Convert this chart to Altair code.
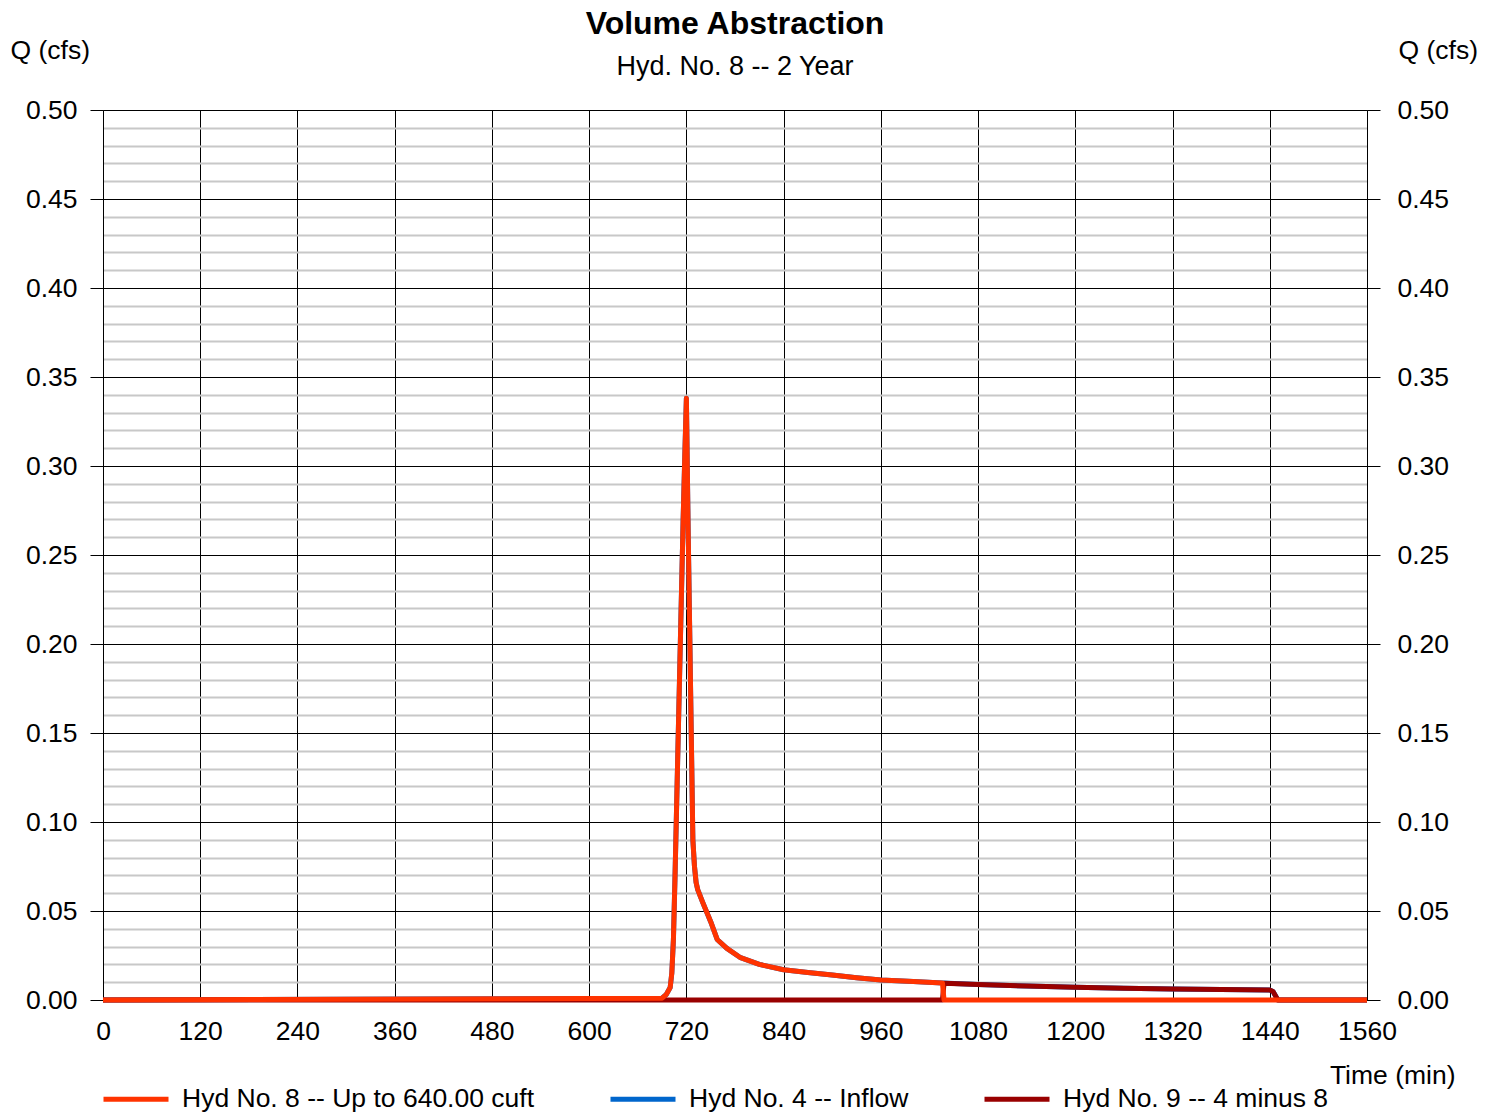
import altair as alt
import pandas as pd

FONT = "Liberation Sans"

S8 = "Hyd No. 8 -- Up to 640.00 cuft"
S4 = "Hyd No. 4 -- Inflow"
S9 = "Hyd No. 9 -- 4 minus 8"

series_names = [S8, S4, S9]
series_colors = ["#FF3300", "#0066CC", "#990000"]

# Hyd No. 8 -- Up to 640.00 cuft
t8 = [0, 690, 695, 700, 702, 704, 706, 708, 710, 712, 714, 716, 718, 720,
      722, 724, 726, 728, 730, 732, 734, 740, 750, 758, 770, 786, 810, 840,
      870, 900, 930, 960, 1000, 1036, 1038, 1560]
q8 = [0, 0.001, 0.003, 0.007, 0.015, 0.034, 0.07, 0.11, 0.15, 0.19, 0.23, 0.27, 0.305, 0.338,
      0.27, 0.21, 0.15, 0.09, 0.075, 0.066, 0.062, 0.055, 0.044, 0.034, 0.029, 0.024, 0.020, 0.017,
      0.0155, 0.014, 0.0125, 0.0113, 0.0104, 0.0095, 0, 0]

# Hyd No. 9 -- 4 minus 8
t9 = [0, 1036, 1038, 1080, 1140, 1200, 1260, 1320, 1380, 1440, 1444, 1450, 1560]
q9 = [0, 0, 0.0094, 0.0087, 0.0078, 0.0071, 0.0066, 0.0062, 0.0059, 0.0056, 0.0048, 0, 0]

# Hyd No. 4 -- Inflow (hidden below the other two)
t4 = [0, 690, 695, 700, 702, 704, 706, 708, 710, 712, 714, 716, 718, 720,
      722, 724, 726, 728, 730, 732, 734, 740, 750, 758, 770, 786, 810, 840,
      870, 900, 930, 960, 1000, 1036, 1080, 1140, 1200, 1260, 1320, 1380, 1440, 1444, 1450, 1560]
q4 = [0, 0.001, 0.003, 0.007, 0.015, 0.034, 0.07, 0.11, 0.15, 0.19, 0.23, 0.27, 0.305, 0.338,
      0.27, 0.21, 0.15, 0.09, 0.075, 0.066, 0.062, 0.055, 0.044, 0.034, 0.029, 0.024, 0.020, 0.017,
      0.0155, 0.014, 0.0125, 0.0113, 0.0104, 0.0095, 0.0087, 0.0078, 0.0071, 0.0066, 0.0062, 0.0059,
      0.0056, 0.0048, 0, 0]

x_ticks = list(range(0, 1561, 120))
y_major = [round(i * 0.05, 2) for i in range(11)]
y_minor = [round(i * 0.01, 2) for i in range(51)]

df8 = pd.DataFrame({"t": t8, "q": q8, "series": S8})
df9 = pd.DataFrame({"t": t9, "q": q9, "series": S9})
df4 = pd.DataFrame({"t": t4, "q": q4, "series": S4})

is_major = "abs(datum.value*20 - round(datum.value*20)) < 0.001"

LAB = 26.5

xscale = alt.Scale(domain=[0, 1560], nice=False, zero=False)
yscale = alt.Scale(domain=[0, 0.5], nice=False, zero=False)
cscale = alt.Scale(domain=series_names, range=series_colors)

x_axis = alt.Axis(
    values=x_ticks, format="d", grid=True, gridColor="black", gridWidth=1, ticks=False,
    labelFontSize=LAB, labelPadding=18, labelFlush=False, domainColor="black",
    title="Time (min)", titleX=1352, titleY=83, titleAlign="right",
    titleBaseline="alphabetic", titleFontSize=LAB, titleFontWeight="normal",
    labelColor="black", titleColor="black",
)

y_left = alt.Axis(
    orient="left", values=y_minor, format=".2f",
    labelExpr=f"{is_major} ? datum.label : ''",
    grid=True,
    gridColor={"condition": {"test": is_major, "value": "black"}, "value": "#c8c8c8"},
    gridWidth={"condition": {"test": is_major, "value": 1}, "value": 2},
    tickOpacity={"condition": {"test": is_major, "value": 1}, "value": 0},
    tickColor="black", tickSize=13, labelPadding=13, labelFontSize=LAB,
    domainColor="black", labelColor="black",
    title="Q (cfs)", titleAngle=0, titleX=-93, titleY=-60, titleAlign="left",
    titleBaseline="middle", titleFontSize=LAB, titleFontWeight="normal", titleColor="black",
)

y_right = alt.Axis(
    orient="right", values=y_major, format=".2f", grid=False,
    tickColor="black", tickSize=13, labelPadding=17, labelFontSize=LAB,
    domainColor="black", labelColor="black",
    title="Q (cfs)", titleAngle=0, titleX=31, titleY=-60, titleAlign="left",
    titleBaseline="middle", titleFontSize=LAB, titleFontWeight="normal", titleColor="black",
)

legend = alt.Legend(
    title=None, orient="none", legendX=-2, legendY=954, direction="horizontal",
    symbolType="stroke", symbolSize=4225, symbolStrokeWidth=5,
    labelFontSize=LAB, labelLimit=0, labelOffset=11, columnPadding=65,
    labelColor="black", padding=0,
)

def layer(df, yaxis):
    return alt.Chart(df).mark_line(strokeWidth=5, strokeJoin="round").encode(
        x=alt.X("t:Q", scale=xscale, axis=x_axis),
        y=alt.Y("q:Q", scale=yscale, axis=yaxis),
        color=alt.Color("series:N", scale=cscale, legend=legend),
        order="t:Q",
    )

l4 = layer(df4, y_left)
l9 = layer(df9, y_right)
l8 = layer(df8, None)

chart = alt.layer(l4, l9, l8).resolve_axis(y="independent").properties(
    width=1264, height=890,
    autosize=alt.AutoSizeParams(type="none"),
    padding={"left": 95, "top": 102, "right": 122, "bottom": 120},
    title=alt.TitleParams(
        text="Volume Abstraction", subtitle="Hyd. No. 8 -- 2 Year",
        anchor="middle", frame="group", fontSize=32, fontWeight="bold",
        subtitleFontSize=27, color="black", subtitleColor="black",
        font=FONT, subtitleFont=FONT, offset=-44, subtitlePadding=13,
    ),
).configure(font=FONT).configure_view(stroke=None)

chart.save("out.html", embed_options={"renderer": "svg", "actions": False})
